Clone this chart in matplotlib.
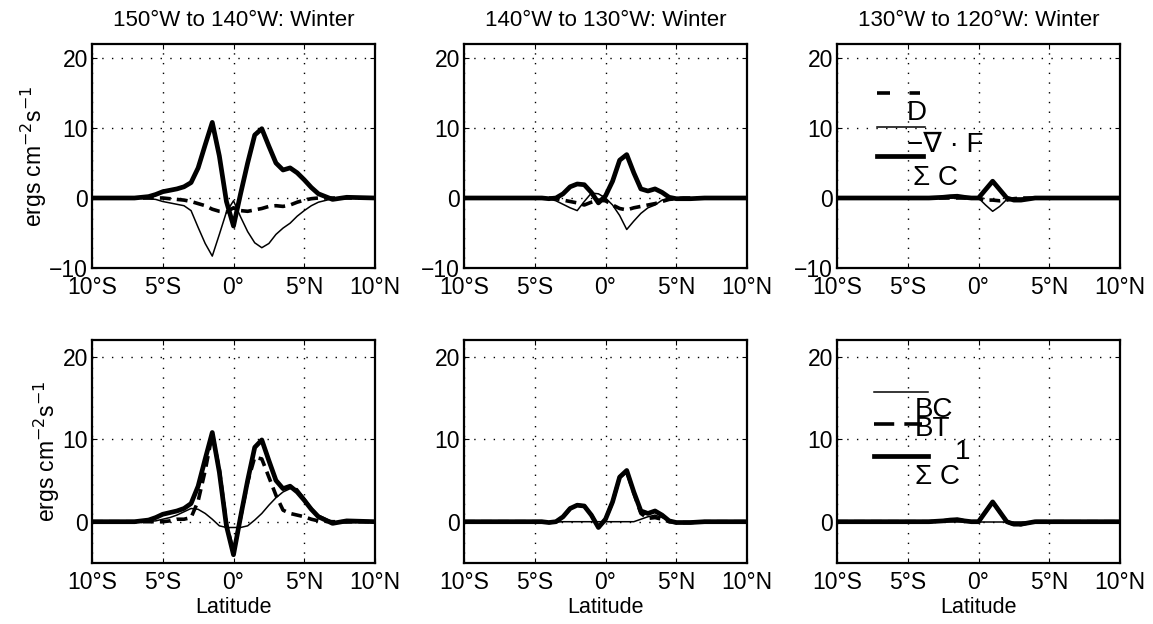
import matplotlib
matplotlib.use('Agg')
import matplotlib.pyplot as plt

plt.rcParams.update({
    'font.family': ['Liberation Sans', 'DejaVu Sans'],
    'font.size': 16,
    'axes.linewidth': 1.6,
    'xtick.direction': 'in',
    'ytick.direction': 'in',
    'xtick.top': True,
    'ytick.right': True,
    'xtick.major.size': 3.5,
    'ytick.major.size': 3.5,
    'xtick.labelsize': 16.5,
    'ytick.labelsize': 16.5,
})

# latitude grid shared by all curves (degrees, negative = south)
lat = [-10, -7, -6, -5.5, -5, -4.5, -4, -3.5, -3, -2.5, -2, -1.5, -1, -0.5, 0,
       0.5, 1, 1.5, 2, 2.5, 3, 3.5, 4, 4.5, 5, 5.5, 6, 7, 8, 10]

# 150W-140W
sigc_150 = [0, 0, 0.2, 0.5, 0.9, 1.1, 1.3, 1.6, 2.2, 4.3, 7.6, 10.8, 6.0, -0.5, -4.0,
            0.6, 5.0, 9.0, 9.9, 7.4, 5.0, 4.0, 4.3, 3.6, 2.6, 1.5, 0.6, -0.2, 0.1, 0]
divf_150 = [0, 0, -0.1, -0.2, -0.5, -0.7, -0.9, -1.1, -1.8, -4.2, -6.5, -8.3, -5.2, -2.0, -0.4,
            -2.7, -4.8, -6.4, -7.1, -6.5, -5.2, -4.3, -3.6, -2.6, -1.8, -1.1, -0.6, -0.1, 0, 0]
d_150 = [0, 0, 0, 0, 0, -0.1, -0.2, -0.3, -0.5, -0.8, -1.1, -1.6, -1.9, -2.0, -1.4,
         -1.8, -1.9, -1.7, -1.5, -1.2, -1.1, -1.2, -1.0, -0.6, -0.3, -0.1, 0, 0, 0, 0]
bc_150 = [0, 0, 0.05, 0.1, 0.3, 0.5, 0.8, 1.2, 1.6, 1.5, 1.0, 0.3, -0.5, -0.7, -0.7,
          -0.7, -0.5, 0.2, 1.0, 2.0, 2.9, 3.6, 4.0, 4.0, 2.9, 1.7, 0.8, 0.0, -0.15, 0]
bt1_150 = [0, 0, 0, 0, 0, 0.1, 0.3, 0.3, 0.5, 2.5, 6.2, 10.6, 6.3, -0.3, -3.7,
           0.5, 4.8, 7.8, 7.6, 5.4, 3.2, 1.4, 1.0, 0.8, 0.6, 0.3, 0.1, 0, 0, 0]

# 140W-130W
sigc_140 = [0, 0, 0, 0, 0, 0, -0.1, 0.0, 0.6, 1.6, 2.0, 1.9, 0.8, -0.7, 0.3,
            2.4, 5.4, 6.2, 3.6, 1.3, 1.0, 1.3, 0.8, 0.1, -0.1, -0.1, -0.1, 0, 0, 0]
divf_140 = [0, 0, 0, 0, 0, 0, -0.1, -0.4, -0.9, -1.4, -1.8, -0.5, 0.7, 0.6, 0,
            -1.0, -2.5, -4.5, -3.3, -2.2, -1.4, -1.0, -0.3, 0, 0, 0, 0, 0, 0, 0]
d_140 = [0, 0, 0, 0, 0, 0, 0, -0.1, -0.3, -0.5, -0.7, -1.0, -0.6, -0.3, -0.4,
         -1.0, -1.5, -1.7, -1.4, -1.2, -1.0, -0.8, -0.5, -0.2, -0.1, 0, 0, 0, 0, 0]
bc_140 = [0, 0, 0, 0, 0, 0, -0.05, -0.05, 0, 0, 0, 0, 0, 0, 0,
          0, 0, 0, 0, 0.3, 0.6, 0.8, 0.5, 0.1, 0, 0, 0, 0, 0, 0]
bt1_140 = [0, 0, 0, 0, 0, 0, -0.1, 0.0, 0.6, 1.6, 2.0, 1.9, 0.8, -0.7, 0.3,
           2.4, 5.4, 6.1, 3.5, 1.0, 0.4, 0.5, 0.3, 0.0, -0.1, -0.1, -0.1, 0, 0, 0]

# 130W-120W
sigc_130 = [0, 0, 0, 0, 0, 0, 0, 0, 0.05, 0.1, 0.2, 0.25, 0.1, 0, 0,
            1.2, 2.4, 1.2, 0, -0.3, -0.3, -0.15, 0, 0, 0, 0, 0, 0, 0, 0]
divf_130 = [0, 0, 0, 0, 0, 0, 0, 0, 0, 0, 0, 0, 0, 0, 0,
            -1.0, -1.9, -1.2, -0.2, 0, 0, 0, 0, 0, 0, 0, 0, 0, 0, 0]
d_130 = [0, 0, 0, 0, 0, 0, 0, 0, 0, 0, 0, 0, 0, 0, 0,
         -0.3, -0.3, -0.4, -0.3, -0.1, 0, 0, 0, 0, 0, 0, 0, 0, 0, 0]
bc_130 = [0, 0, 0, 0, 0, 0, 0, 0, 0, 0, 0, 0, 0, 0, 0,
          0, 0, 0, 0, 0, 0, 0, 0, 0, 0, 0, 0, 0, 0, 0]
bt1_130 = [0, 0, 0, 0, 0, 0, 0, 0, 0.05, 0.1, 0.2, 0.25, 0.1, 0, 0,
           1.2, 2.4, 1.2, 0, -0.35, -0.35, -0.15, 0, 0, 0, 0, 0, 0, 0, 0]

titles = ['150°W to 140°W: Winter', '140°W to 130°W: Winter', '130°W to 120°W: Winter']
top_series = [(sigc_150, divf_150, d_150), (sigc_140, divf_140, d_140), (sigc_130, divf_130, d_130)]
bot_series = [(sigc_150, bc_150, bt1_150), (sigc_140, bc_140, bt1_140), (sigc_130, bc_130, bt1_130)]

xticks = [-10, -5, 0, 5, 10]
xticklabels = ['10°S', '5°S', '0°', '5°N', '10°N']

W, H = 1153, 624
fig = plt.figure(figsize=(W / 100, H / 100), dpi=100)
lefts = [92, 464, 837]
axw = 283


def make_ax(left, top, bottom):
    return fig.add_axes([left / W, 1 - bottom / H, axw / W, (bottom - top) / H])


def style(ax, ylim, yticks):
    ax.set_xlim(-10, 10)
    ax.set_ylim(*ylim)
    ax.set_xticks(xticks)
    ax.set_xticklabels(xticklabels)
    ax.set_yticks(yticks)
    ax.tick_params(axis='x', pad=6)
    ax.tick_params(axis='y', pad=3)
    ax.grid(True, color='black', linestyle=(0, (1, 6)), linewidth=1)


thick = dict(color='black', lw=3.4, solid_joinstyle='round')
thin = dict(color='black', lw=1.1)
dashed = dict(color='black', lw=2.6, linestyle=(0, (3.0, 1.7)))

for i in range(3):
    ax = make_ax(lefts[i], 44, 268)
    sc, df, dd = top_series[i]
    ax.plot(lat, dd, **dashed)
    ax.plot(lat, df, **thin)
    ax.plot(lat, sc, **thick)
    style(ax, (-10, 22), [-10, 0, 10, 20])
    ax.set_title(titles[i], fontsize=16, pad=13)
    if i == 0:
        ax.set_ylabel('ergs cm$^{-2}$s$^{-1}$', fontsize=16.5, labelpad=0)
    if i == 2:
        ax.plot([-7.2, -4.1], [15, 15], color='black', lw=2.6, linestyle=(0, (3.6, 5.4)))
        ax.plot([-7.2, -3.75], [10.2, 10.2], color='black', lw=1.1)
        ax.plot([-7.2, -3.9], [5.95, 5.95], color='black', lw=3.4)
        ax.text(-5.05, 12.2, 'D', fontsize=20, va='center', ha='left')
        ax.text(-5.05, 7.6, '−∇ · F', fontsize=20, va='center', ha='left')
        ax.text(-4.6, 2.9, 'Σ C', fontsize=20, va='center', ha='left')

for i in range(3):
    ax = make_ax(lefts[i], 340, 563)
    sc, bc, bt = bot_series[i]
    ax.plot(lat, bt, **dashed)
    ax.plot(lat, bc, **thin)
    ax.plot(lat, sc, **thick)
    style(ax, (-5, 22), [0, 10, 20])
    ax.set_xlabel('Latitude', fontsize=15.5, labelpad=2)
    if i == 0:
        ax.set_ylabel('ergs cm$^{-2}$s$^{-1}$', fontsize=16.5, labelpad=0)
    if i == 2:
        ax.plot([-7.4, -3.55], [15.7, 15.7], color='black', lw=1.1)
        ax.plot([-7.4, -4.0], [11.8, 11.8], color='black', lw=2.6, linestyle=(0, (5.6, 2.8)))
        ax.plot([-7.4, -3.55], [8.0, 8.0], color='black', lw=3.4)
        ax.text(-4.5, 13.5, 'BC', fontsize=20, va='center', ha='left')
        ax.text(-4.5, 11.2, 'BT', fontsize=20, va='center', ha='left')
        ax.text(-1.7, 8.4, '1', fontsize=20, va='center', ha='left')
        ax.text(-4.5, 5.4, 'Σ C', fontsize=20, va='center', ha='left')

fig.savefig('out.png', dpi=100, facecolor='white')
